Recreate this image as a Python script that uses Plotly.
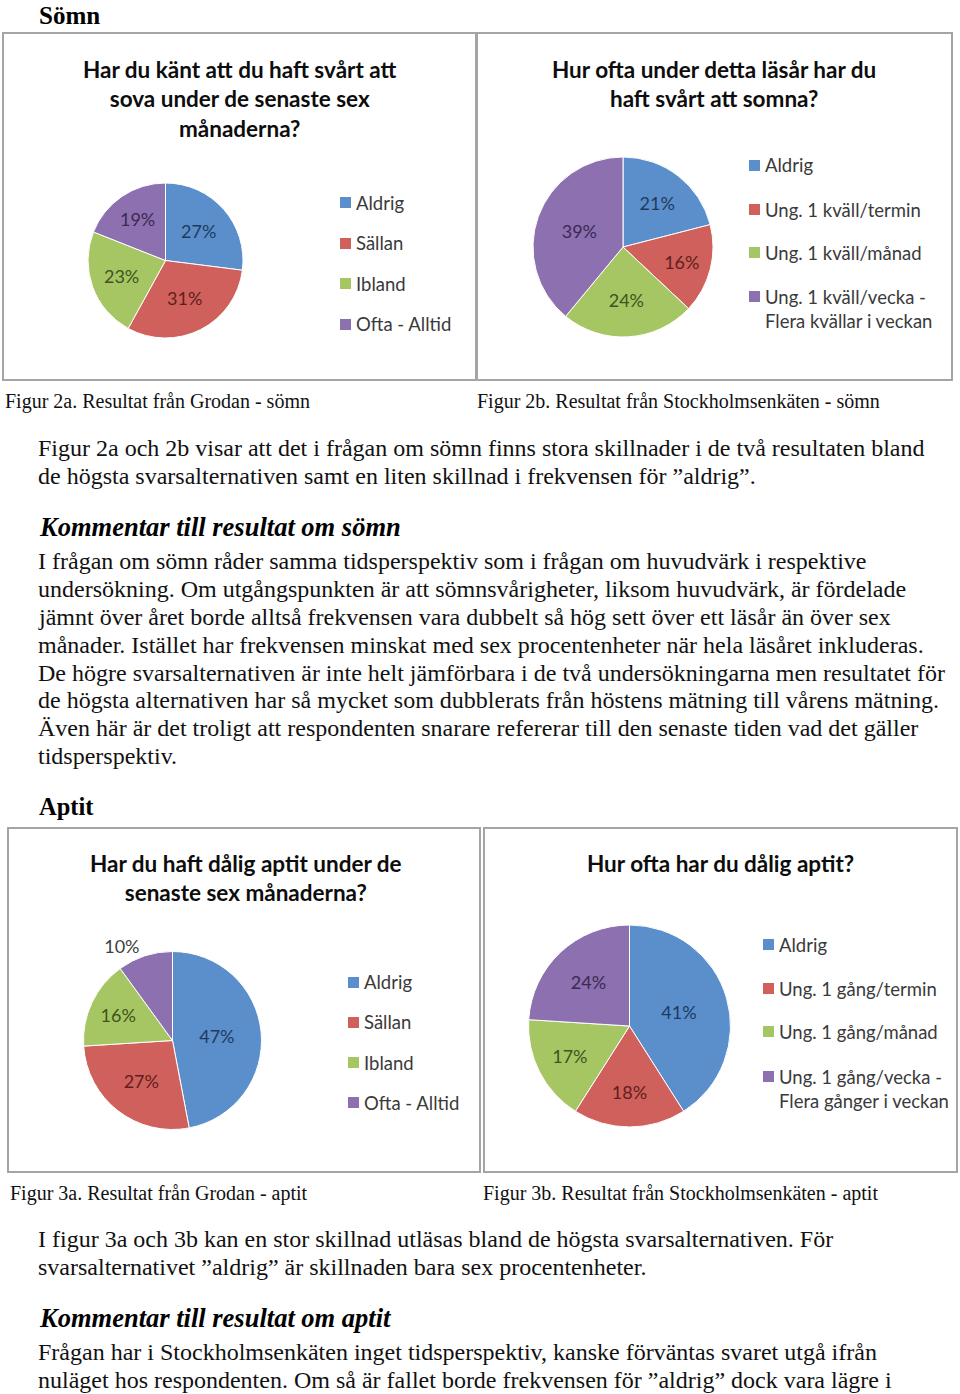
import plotly.graph_objects as go

W, H = 960, 1394

# ---------------- data ----------------
grodan_somn_labels = ["Aldrig", "Sällan", "Ibland", "Ofta - Alltid"]
grodan_somn_values = [27, 31, 23, 19]

sthlm_somn_labels = ["Aldrig", "Ung. 1 kväll/termin", "Ung. 1 kväll/månad",
                     "Ung. 1 kväll/vecka -<br>Flera kvällar i veckan"]
sthlm_somn_values = [21, 16, 24, 39]

grodan_aptit_labels = ["Aldrig", "Sällan", "Ibland", "Ofta - Alltid"]
grodan_aptit_values = [47, 27, 16, 10]

sthlm_aptit_labels = ["Aldrig", "Ung. 1 gång/termin", "Ung. 1 gång/månad",
                      "Ung. 1 gång/vecka -<br>Flera gånger i veckan"]
sthlm_aptit_values = [41, 18, 17, 24]

titles = [
    "Har du känt att du haft svårt att<br>sova under de senaste sex<br>månaderna?",
    "Hur ofta under detta läsår har du<br>haft svårt att somna?",
    "Har du haft dålig aptit under de<br>senaste sex månaderna?",
    "Hur ofta har du dålig aptit?",
]
captions = [
    "Figur 2a. Resultat från Grodan - sömn",
    "Figur 2b. Resultat från Stockholmsenkäten - sömn",
    "Figur 3a. Resultat från Grodan - aptit",
    "Figur 3b. Resultat från Stockholmsenkäten - aptit",
]

slice_colors = ["#5B8FCC", "#D0605C", "#A6C664", "#8C70B0"]
label_colors = ["#1F3A5F", "#5E1F1D", "#3F5420", "#3B2A52"]

# ---------------- layout helpers ----------------
def X(px):
    return px / W

def Y(py):
    return 1 - py / H

CHART_FONT = "Lato"
SERIF = "Liberation Serif"

fig = go.Figure()

pies = [
    dict(labels=grodan_somn_labels, values=grodan_somn_values, c=(165.5, 260.5), r=77.5,
         pos=["inside"] * 4),
    dict(labels=sthlm_somn_labels, values=sthlm_somn_values, c=(623, 247), r=90,
         pos=["inside"] * 4),
    dict(labels=grodan_aptit_labels, values=grodan_aptit_values, c=(172.5, 1040.5), r=89,
         pos=["inside", "inside", "inside", "outside"]),
    dict(labels=sthlm_aptit_labels, values=sthlm_aptit_values, c=(629.5, 1026), r=101,
         pos=["inside"] * 4),
]

for i, p in enumerate(pies):
    cx, cy = p["c"]
    r = p["r"]
    tcols = list(label_colors)
    if p["pos"][3] == "outside":
        tcols[3] = "#404040"
    fig.add_trace(go.Pie(
        labels=p["labels"], values=p["values"],
        sort=False, direction="clockwise", rotation=0,
        marker=dict(colors=slice_colors, line=dict(color="white", width=1)),
        texttemplate="%{value}%", textposition=p["pos"],
        insidetextorientation="horizontal",
        textfont=dict(family=CHART_FONT, size=18, color=tcols),
        showlegend=False, hoverinfo="label+value",
        domain=dict(x=[X(cx - r), X(cx + r)], y=[Y(cy + r), Y(cy - r)]),
    ))

shapes = []
annotations = []

# panel borders
panels = [(3, 33, 476, 380), (477, 33, 952, 380), (8, 828, 480, 1172), (484, 828, 957, 1172)]
for (x0, y0, x1, y1) in panels:
    shapes.append(dict(type="rect", xref="paper", yref="paper",
                       x0=X(x0), x1=X(x1), y0=Y(y1), y1=Y(y0),
                       line=dict(color="#A5A5A5", width=2), fillcolor="rgba(0,0,0,0)"))

# chart titles
title_pos = [(240, 54), (714, 54), (246, 848), (720, 848)]
for t, (tx, ty) in zip(titles, title_pos):
    annotations.append(dict(text=t, x=X(tx), y=Y(ty), xref="paper", yref="paper",
                            xanchor="center", yanchor="top", showarrow=False, align="center",
                            font=dict(family=CHART_FONT, size=22.5, color="#0d0d0d", weight="bold")))

# legends
legend_specs = [
    (grodan_somn_labels, 340, [202, 243, 283, 324]),
    (sthlm_somn_labels, 749, [165, 209, 252, 296]),
    (grodan_aptit_labels, 348, [982, 1022, 1062, 1102]),
    (sthlm_aptit_labels, 763, [944, 988, 1031, 1076]),
]
for labels, lx, ys in legend_specs:
    for lab, col, ly in zip(labels, slice_colors, ys):
        shapes.append(dict(type="rect", xref="paper", yref="paper",
                           x0=X(lx), x1=X(lx + 11), y0=Y(ly + 6), y1=Y(ly - 5),
                           line=dict(width=0), fillcolor=col))
        annotations.append(dict(text=lab, x=X(lx + 14), y=Y(ly - 12.5), xref="paper", yref="paper",
                                xanchor="left", yanchor="top", showarrow=False, align="left",
                                font=dict(family=CHART_FONT, size=18.5, color="#3a3a3a")))

# captions
cap_pos = [(3, 402), (475, 402), (8, 1193), (481, 1193)]
for c, (cx, cy) in zip(captions, cap_pos):
    annotations.append(dict(text=c, x=X(cx), y=Y(cy), xref="paper", yref="paper",
                            xanchor="left", yanchor="middle", showarrow=False,
                            font=dict(family=SERIF, size=20, color="#111")))

# headings
annotations.append(dict(text="Sömn", x=X(37), y=Y(0), xref="paper", yref="paper",
                        xanchor="left", yanchor="top", showarrow=False,
                        font=dict(family=SERIF, size=25, color="#000", weight="bold")))
headings = [
    ("Kommentar till resultat om sömn", 527, True),
    ("Aptit", 807, False),
    ("Kommentar till resultat om aptit", 1318, True),
]
for txt, hy, ital in headings:
    annotations.append(dict(text=f"<i>{txt}</i>" if ital else txt, x=X(37), y=Y(hy),
                            xref="paper", yref="paper", xanchor="left", yanchor="middle",
                            showarrow=False,
                            font=dict(family=SERIF, size=26.5 if ital else 24.5,
                                      color="#000", weight="bold")))

# body text
body = [
    (448, "Figur 2a och 2b visar att det i frågan om sömn finns stora skillnader i de två resultaten bland"),
    (476, "de högsta svarsalternativen samt en liten skillnad i frekvensen för ”aldrig”."),
    (561, "I frågan om sömn råder samma tidsperspektiv som i frågan om huvudvärk i respektive"),
    (589, "undersökning. Om utgångspunkten är att sömnsvårigheter, liksom huvudvärk, är fördelade"),
    (617, "jämnt över året borde alltså frekvensen vara dubbelt så hög sett över ett läsår än över sex"),
    (645, "månader. Istället har frekvensen minskat med sex procentenheter när hela läsåret inkluderas."),
    (673, "De högre svarsalternativen är inte helt jämförbara i de två undersökningarna men resultatet för"),
    (700, "de högsta alternativen har så mycket som dubblerats från höstens mätning till vårens mätning."),
    (728, "Även här är det troligt att respondenten snarare refererar till den senaste tiden vad det gäller"),
    (756, "tidsperspektiv."),
    (1239, "I figur 3a och 3b kan en stor skillnad utläsas bland de högsta svarsalternativen. För"),
    (1267, "svarsalternativet ”aldrig” är skillnaden bara sex procentenheter."),
    (1352, "Frågan har i Stockholmsenkäten inget tidsperspektiv, kanske förväntas svaret utgå ifrån"),
    (1380, "nuläget hos respondenten. Om så är fallet borde frekvensen för ”aldrig” dock vara lägre i"),
]
for by, txt in body:
    annotations.append(dict(text=txt, x=X(36), y=Y(by), xref="paper", yref="paper",
                            xanchor="left", yanchor="middle", showarrow=False,
                            font=dict(family=SERIF, size=24, color="#111")))

fig.update_layout(
    width=W, height=H,
    margin=dict(l=0, r=0, t=0, b=0),
    paper_bgcolor="white", plot_bgcolor="white",
    shapes=shapes, annotations=annotations,
    showlegend=False,
)

fig.write_html("out.html")
